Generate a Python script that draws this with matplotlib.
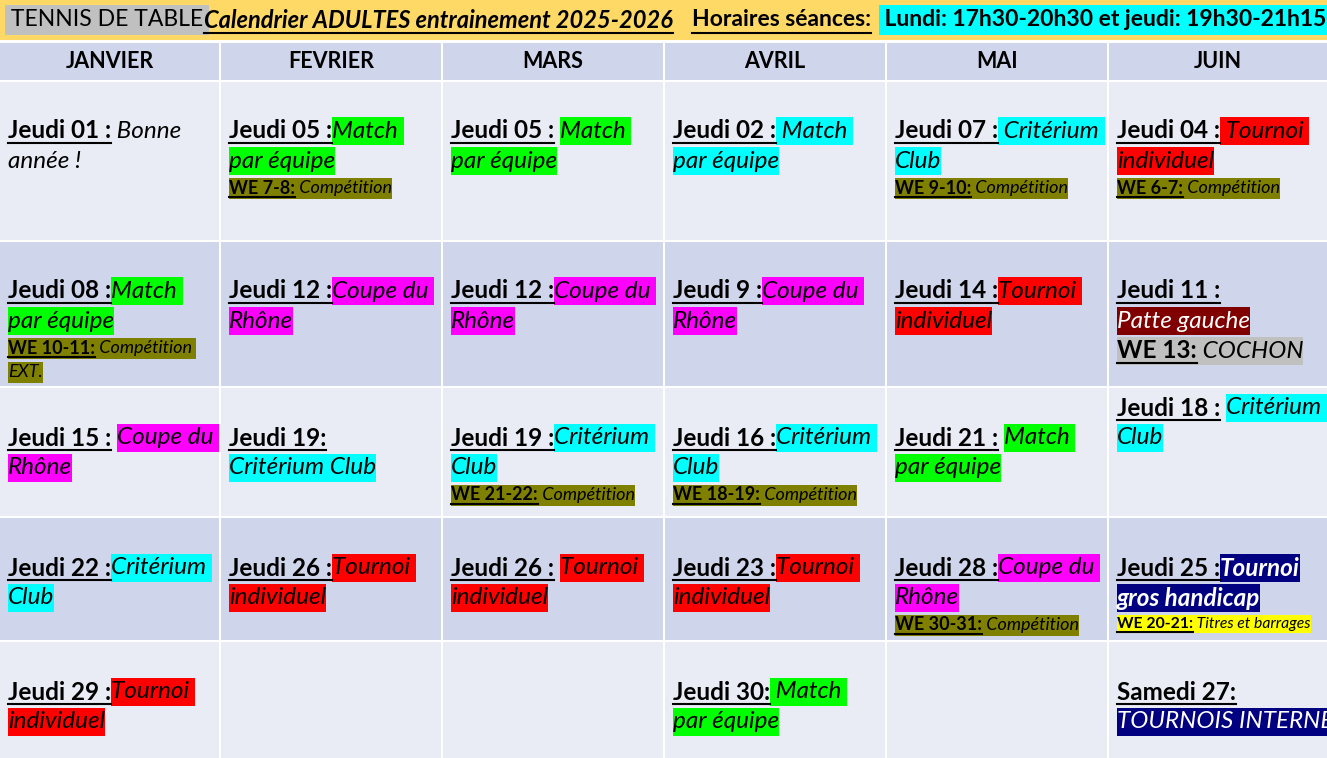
import matplotlib
matplotlib.use("Agg")
import matplotlib.pyplot as plt
from matplotlib.patches import Rectangle

FONT = ["Lato", "DejaVu Sans"]
months = ["JANVIER", "FEVRIER", "MARS", "AVRIL", "MAI", "JUIN"]

G, C, M, R, O = "#00ff00", "#00ffff", "#ff00ff", "#ff0000", "#808000"
DR, NV, SV, YL = "#800000", "#000080", "#c0c0c0", "#ffff00"

def J(s): return (s, "bu", None, "L")
def E(s, bg=None, st="i"): return (s, st, bg, "L")
def W(s, bg=O): return (s, "bu", bg, "S")
def Wt(s, bg=O): return (s, "i", bg, "S")

# cells[row][col] = list of lines, each line a list of runs
cells = [
    [
        [[J("Jeudi 01 :"), E(" Bonne")], [E("année !")]],
        [[J("Jeudi 05 :"), E("Match ", G)], [E("par équipe", G)], [W("WE 7-8:"), Wt(" Compétition")]],
        [[J("Jeudi 05 : "), E("Match ", G)], [E("par équipe", G)]],
        [[J("Jeudi 02 :"), E(" Match ", C)], [E("par équipe", C)]],
        [[J("Jeudi 07 :"), E(" Critérium ", C)], [E("Club", C)], [W("WE 9-10:"), Wt(" Compétition")]],
        [[J("Jeudi 04 :"), E(" Tournoi ", R)], [E("individuel", R)], [W("WE 6-7:"), Wt(" Compétition")]],
    ],
    [
        [[J("Jeudi 08 :"), E("Match ", G)], [E("par équipe", G)], [W("WE 10-11:"), Wt(" Compétition ")], [Wt("EXT.")]],
        [[J("Jeudi 12 :"), E("Coupe du ", M)], [E("Rhône", M)]],
        [[J("Jeudi 12 :"), E("Coupe du ", M)], [E("Rhône", M)]],
        [[J("Jeudi 9 :"), E("Coupe du ", M)], [E("Rhône", M)]],
        [[J("Jeudi 14 :"), E("Tournoi ", R)], [E("individuel", R)]],
        [[J("Jeudi 11 :")], [("Patte gauche", "iw", DR, "L")], [("WE 13:", "bu", SV, "L"), E(" COCHON", SV)]],
    ],
    [
        [[J("Jeudi 15 : "), E("Coupe du ", M)], [E("Rhône", M)]],
        [[J("Jeudi 19:")], [E("Critérium Club", C)]],
        [[J("Jeudi 19 :"), E("Critérium ", C)], [E("Club", C)], [W("WE 21-22:"), Wt(" Compétition")]],
        [[J("Jeudi 16 :"), E("Critérium ", C)], [E("Club", C)], [W("WE 18-19:"), Wt(" Compétition")]],
        [[J("Jeudi 21 : "), E("Match ", G)], [E("par équipe", G)]],
        [[J("Jeudi 18 : "), E("Critérium ", C)], [E("Club", C)]],
    ],
    [
        [[J("Jeudi 22 :"), E("Critérium ", C)], [E("Club", C)]],
        [[J("Jeudi 26 :"), E("Tournoi ", R)], [E("individuel", R)]],
        [[J("Jeudi 26 : "), E("Tournoi ", R)], [E("individuel", R)]],
        [[J("Jeudi 23 :"), E("Tournoi ", R)], [E("individuel", R)]],
        [[J("Jeudi 28 :"), E("Coupe du ", M)], [E("Rhône", M)], [W("WE 30-31:"), Wt(" Compétition")]],
        [[J("Jeudi 25 :"), ("Tournoi", "biw", NV, "L")], [("gros handicap", "biw", NV, "L")],
         [("WE 20-21:", "bu", YL, "X"), (" Titres et barrages", "i", YL, "X")]],
    ],
    [
        [[J("Jeudi 29 :"), E("Tournoi ", R)], [E("individuel", R)]],
        [], [],
        [[J("Jeudi 30:"), E(" Match ", G)], [E("par équipe", G)]],
        [],
        [[J("Samedi 27:")], [("TOURNOIS INTERNE", "iw", NV, "L")]],
    ],
]

# layout (pixels)
W_, H_ = 1327, 758
col_x = [0, 221, 443, 665, 887, 1109, 1329]
row_y = [82, 242, 388, 518, 642, 760]
row_start = [131, 291, 438, 568, 692]
row_bg = ["#e9ebf5", "#cfd5ea", "#e9ebf5", "#cfd5ea", "#e9ebf5"]
SIZES = {"L": 17.5, "S": 13, "X": 11.3}
LINE_H = {"L": 30, "S": 24, "X": 22}
BOX_H = {"L": 28, "S": 21, "X": 18}

fig = plt.figure(figsize=(13.27, 7.58), dpi=100)
ax = fig.add_axes([0, 0, 1, 1])
ax.set_xlim(0, W_); ax.set_ylim(H_, 0); ax.axis("off")
fig.patch.set_facecolor("white")
renderer = fig.canvas.get_renderer()

def tw(s, **kw):
    t = ax.text(0, 0, "|" + s + "|", fontfamily=FONT, **kw)
    t0 = ax.text(0, 0, "||", fontfamily=FONT, **kw)
    w = t.get_window_extent(renderer).width - t0.get_window_extent(renderer).width
    t.remove(); t0.remove()
    return w

def run(x, y, s, st, bg, sz, color="black"):
    fs = SIZES[sz]
    kw = dict(fontsize=fs, fontweight="bold" if "b" in st else "normal",
              fontstyle="italic" if "i" in st else "normal")
    w = tw(s, **kw)
    h = BOX_H[sz]
    if bg:
        ax.add_patch(Rectangle((x, y - h / 2), w, h, facecolor=bg, edgecolor="none", zorder=2))
    col = "white" if "w" in st else color
    ax.text(x, y, s, va="center", ha="left", color=col, fontfamily=FONT, zorder=3, **kw)
    if "u" in st:
        ax.plot([x, x + w - tw(" ", **kw) * (len(s) - len(s.rstrip()))],
                [y + h * 0.42] * 2, color=col, lw=1.5, zorder=4)
    return x + w

# top band
ax.add_patch(Rectangle((0, 0), W_, 40, facecolor="#ffd966", edgecolor="none"))
def hrun(x, s, st, bg, fs=16.5):
    kw = dict(fontsize=fs, fontweight="bold" if "b" in st else "normal",
              fontstyle="italic" if "i" in st else "normal")
    w = tw(s, **kw)
    if bg:
        ax.add_patch(Rectangle((x, 5), w, 30, facecolor=bg, edgecolor="none", zorder=2))
    ax.text(x, 20, s, va="center", fontfamily=FONT, zorder=3, **kw)
    if "u" in st:
        ax.plot([x, x + w], [33, 33], color="black", lw=1.5, zorder=4)
hrun(5, " TENNIS DE TABLE ", "", SV)
hrun(204, "Calendrier ADULTES entrainement 2025-2026", "biu", None, 17)
hrun(692, "Horaires séances:", "bu", None)
hrun(879, " Lundi: 17h30-20h30 et jeudi: 19h30-21h15 ", "b", C)

# month header
for j, m in enumerate(months):
    ax.add_patch(Rectangle((col_x[j], 43), col_x[j + 1] - col_x[j] - 2, 37,
                           facecolor="#cfd5ea", edgecolor="none"))
    ax.text((col_x[j] + col_x[j + 1] - 2) / 2, 61, m, ha="center", va="center",
            fontsize=15.5, fontweight="bold", fontfamily=FONT)

for i, row in enumerate(cells):
    for j, lines in enumerate(row):
        ax.add_patch(Rectangle((col_x[j], row_y[i]), col_x[j + 1] - col_x[j] - 2,
                               row_y[i + 1] - row_y[i] - 2, facecolor=row_bg[i], edgecolor="none"))
        y = row_start[i] - (30 if (i == 2 and j == 5) else 0)
        prev = None
        for line in lines:
            sz = line[0][3]
            if prev is not None:
                y += (LINE_H[prev] + LINE_H[sz]) / 2
            x = col_x[j] + 8
            for (s, st, bg, szr) in line:
                x = run(x, y, s, st, bg, szr)
            prev = sz

fig.savefig("out.png", dpi=100)
